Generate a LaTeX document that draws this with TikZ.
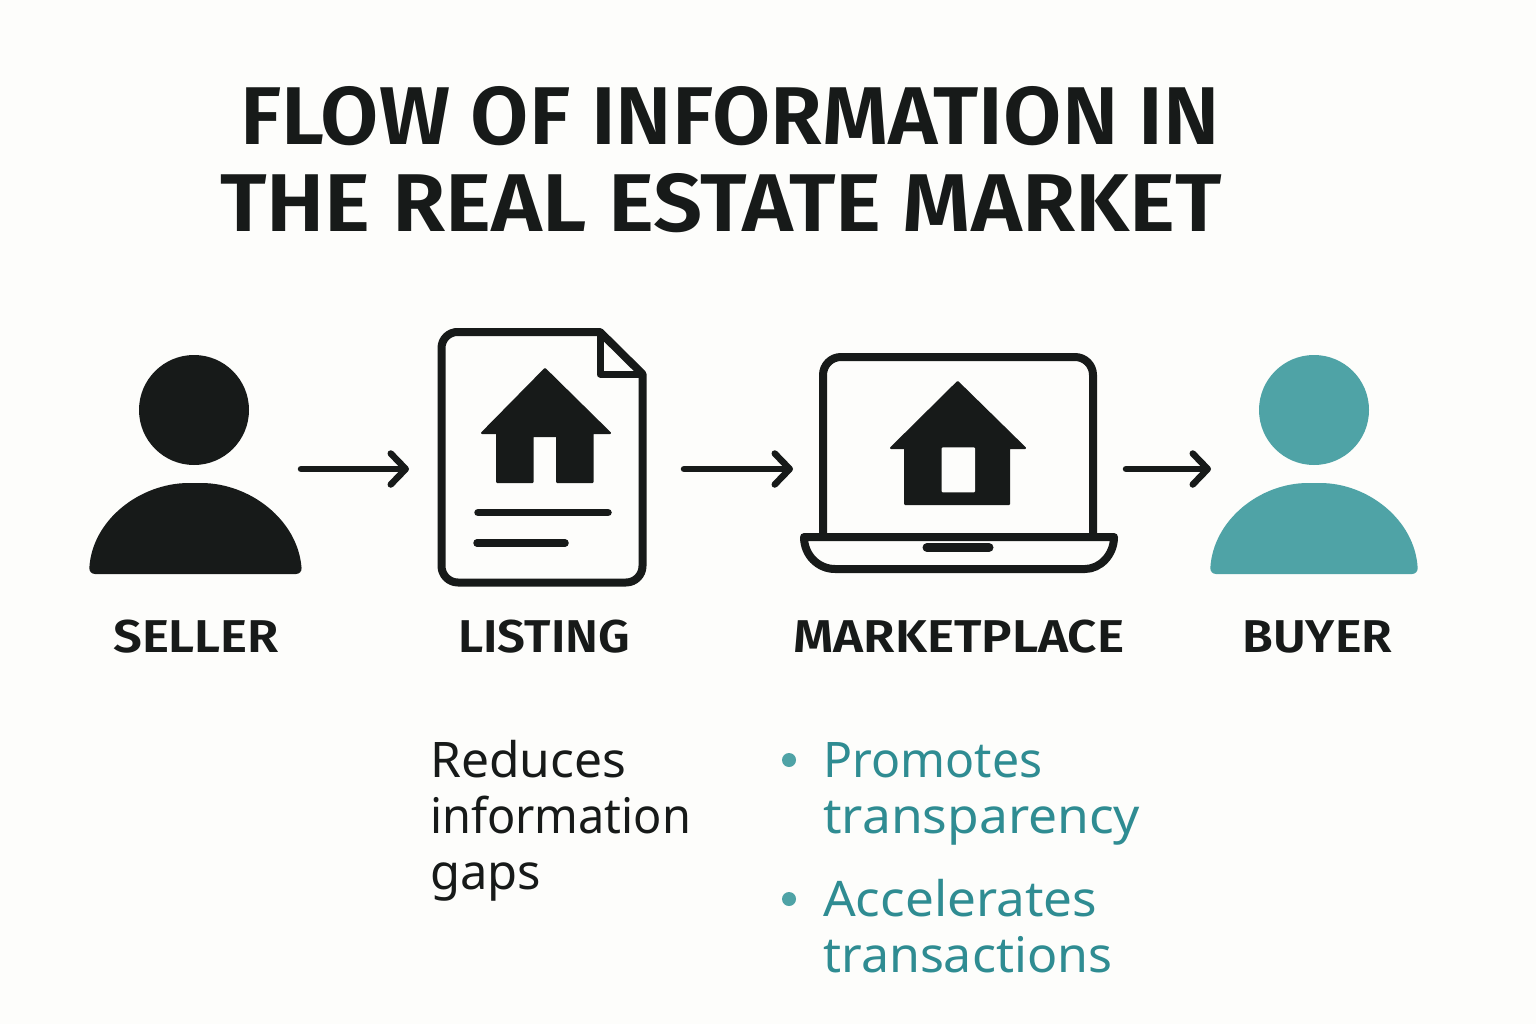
\documentclass[tikz,border=0pt]{standalone}
\usepackage{fontspec}
\usepackage{graphicx}
\setmainfont{Noto Sans}
\newfontfamily\headfont{Fira Sans SemiBold}
\usetikzlibrary{arrows.meta}
\definecolor{ink}{HTML}{171A19}
\definecolor{paper}{HTML}{FDFDFB}
\definecolor{tealfill}{HTML}{4FA3A6}
\definecolor{tealtext}{HTML}{2F8C92}
\newsavebox\fitbox
\newcommand\fitw[2]{\sbox\fitbox{#2}\pgfmathsetmacro\fitratio{#1/\the\wd\fitbox}\scalebox{\fitratio}[1]{\usebox\fitbox}}
\tikzset{
  x=1pt,y=-1pt,
  flow/.style={ink,line width=6.5pt,line cap=round,-{Straight Barb[length=15pt,width=31pt,line width=6.5pt,round]}},
  outline/.style={draw=ink,line width=8pt,line join=round,fill=paper},
  bar/.style={ink,line width=7.5pt,line cap=round},
  solid shape/.style={fill=ink,draw=ink,line width=2pt,line join=round},
  titletext/.style={anchor=base west,inner sep=0pt,font=\headfont\fontsize{82}{82}\selectfont,text=ink},
  caption/.style={anchor=base west,inner sep=0pt,font=\headfont\fontsize{46}{46}\selectfont,text=ink},
  body/.style={anchor=base west,inner sep=0pt,font=\fontsize{49}{49}\selectfont,text=ink},
  tealbody/.style={body,text=tealtext},
  dotmark/.style={circle,fill=tealfill,inner sep=0pt,minimum size=14pt},
}
\begin{document}
\begin{tikzpicture}
\useasboundingbox (0,0) rectangle (1536,1024);
\fill[paper] (0,0) rectangle (1536,1024);
% title
\node[titletext] (t1) at (240,145) {\fitw{980}{FLOW OF INFORMATION IN}};
\node[titletext] (t2) at (220,232) {\fitw{1002}{THE REAL ESTATE MARKET}};
% seller
\fill[ink] (194,410) circle (55);
\fill[ink,rounded corners=6pt] (89,574) .. controls (92,520) and (140,483) .. (195,483) .. controls (250,483) and (298,520) .. (302,574) -- cycle;
% listing
\draw[outline] (455,332) -- (600,332) -- (642.5,374) -- (642.5,566) arc[start angle=0,end angle=90,radius=16.5] -- (458,582.5) arc[start angle=90,end angle=180,radius=16.5] -- (441.5,348) arc[start angle=180,end angle=270,radius=16] -- cycle;
\draw[draw=ink,line width=7pt,line join=round] (600,334) -- (600,374) -- (642,374);
\draw[solid shape] (545,369) -- (610,433) -- (592.5,433) -- (592.5,482) -- (557,482) -- (557,436) -- (532.5,436) -- (532.5,482) -- (497,482) -- (497,433) -- (482,433) -- cycle;
\draw[bar] (478,512.7) -- (608,512.7);
\draw[bar] (477,543) -- (565,543);
% laptop
\draw[outline] (823,533) -- (823,375) arc[start angle=180,end angle=270,radius=18] -- (1075,357) arc[start angle=270,end angle=360,radius=18] -- (1093,533);
\draw[outline] (804,537) -- (1114,537) .. controls (1114,555) and (1100,569) .. (1085,569) -- (835,569) .. controls (818,569) and (804,555) .. (804,537) -- cycle;
\draw[ink,line width=9pt,line cap=round] (927,547.5) -- (989,547.5);
\draw[solid shape] (957.7,382) -- (1025,448) -- (1009,448) -- (1009,504) -- (905,504) -- (905,448) -- (891,448) -- cycle;
\fill[paper,rounded corners=1pt] (941.7,447.3) rectangle (975,492.3);
% buyer
\fill[tealfill] (1314,410) circle (55);
\fill[tealfill,rounded corners=6pt] (1210,574) .. controls (1213,520) and (1260,483) .. (1314,483) .. controls (1368,483) and (1415,520) .. (1418,574) -- cycle;
% anchors of connectors
\coordinate (sellerR) at (301,469);
\coordinate (listingL) at (409,469);
\coordinate (listingR) at (684,469);
\coordinate (marketL) at (793,469);
\coordinate (marketR) at (1126,469);
\coordinate (buyerL) at (1211,469);
\draw[flow] (sellerR) -- (listingL);
\draw[flow] (listingR) -- (marketL);
\draw[flow] (marketR) -- (buyerL);
% captions
\node[caption] (c1) at (113,652) {\fitw{166}{SELLER}};
\node[caption] (c2) at (458,652) {\fitw{172}{LISTING}};
\node[caption] (c3) at (793,652) {\fitw{331}{MARKETPLACE}};
\node[caption] (c4) at (1242,652) {\fitw{150}{BUYER}};
% notes
\node[body] (n1) at (430,777) {\fitw{196}{Reduces}};
\node[body] (n2) at (430,833) {\fitw{261}{information}};
\node[body] (n3) at (430,889) {\fitw{111}{gaps}};
\node[dotmark] (d1) at (789,760) {};
\node[tealbody] (p1) at (823,777) {\fitw{219}{Promotes}};
\node[tealbody] (p2) at (823,833) {\fitw{317}{transparency}};
\node[dotmark] (d2) at (789,899) {};
\node[tealbody] (p3) at (823,916) {\fitw{274}{Accelerates}};
\node[tealbody] (p4) at (823,972) {\fitw{289}{transactions}};
\end{tikzpicture}
\end{document}
